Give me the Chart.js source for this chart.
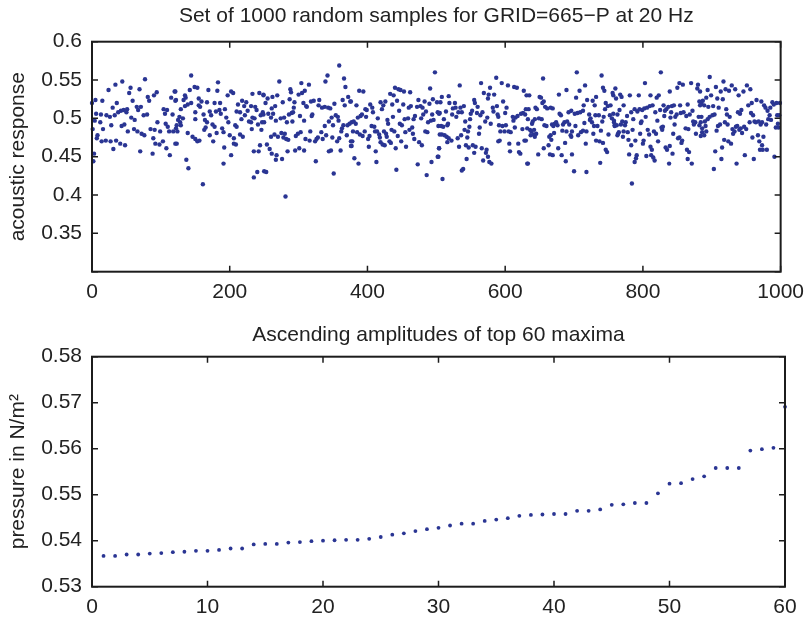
<!DOCTYPE html>
<html>
<head>
<meta charset="utf-8">
<script src="https://cdn.jsdelivr.net/npm/chart.js@4.4.1/dist/chart.umd.min.js"></script>
<style>
  body { margin: 0; background: #fff; }
  #wrap { position: relative; width: 812px; height: 619px; }
  canvas { position: absolute; left: 0; }
  #top { top: 0; }
  #bottom { top: 310px; }
</style>
</head>
<body>
<div id="wrap">
  <canvas id="top" width="812" height="310"></canvas>
  <canvas id="bottom" width="812" height="309"></canvas>
</div>
<script>
// top plot: samples (sample number, acoustic response)
const sampleIndex = [
  0,5,15,24,34,44,77,56,69,54,81,94,90,83,115,120,121,30,36,42,46,51,50,59,65,67,71,57,62,75,80,104,109,106,117,6,13,21,26,33,38,
  4,12,16,28,43,47,1,52,61,66,72,76,85,91,95,99,110,112,118,122,107,8,7,14,20,27,35,41,48,89,92,98,103,123,31,70,88,108,113,3,2,
  144,149,153,142,135,136,133,121,122,169,183,182,197,202,205,233,243,249,218,224,
  155,159,157,155,144,139,135,129,167,178,186,193,180,185,187,171,173,162,150,212,221,231,237,239,210,215,222,226,233,249,245,
  125,128,123,129,132,127,150,164,167,175,178,195,198,208,210,217,228,231,241,247,236,
  124,165,163,189,191,181,171,232,246,139,200,206,215,219,
  146,150,153,156,176,206,209,121,192,244,
  235,242,202,137,191,140,240,235,250,161,
  272,288,289,304,315,300,305,309,342,339,359,366,368,372,375,249,255,262,269,
  252,261,266,277,287,294,293,307,311,312,318,322,330,329,334,338,343,346,352,364,367,
  248,256,260,263,267,274,279,283,286,290,291,292,302,308,320,319,338,344,348,350,354,357,358,362,363,365,371,374,250,
  260,265,270,275,280,278,282,285,296,299,303,310,316,317,324,326,328,333,335,340,349,356,359,370,376,377,
  254,258,261,268,267,276,284,295,301,308,325,344,347,361,351,253,281,
  388,394,440,445,448,453,462,433,438,498,491,495,501,474,483,443,376,384,397,399,
  404,407,408,419,423,426,421,436,452,446,460,463,472,477,480,485,490,494,502,504,
  377,380,383,386,390,392,398,415,429,430,437,447,450,454,459,467,469,478,481,488,492,496,503,
  379,385,389,393,396,401,403,406,410,411,414,417,418,424,427,428,435,439,444,455,461,465,466,468,484,487,505,
  378,376,419,422,425,434,432,449,456,441,475,479,412,402,381,387,413,442,473,493,486,502,504,
  534,565,578,587,595,604,613,617,627,508,518,569,576,584,575,555,519,527,597,631,506,
  524,528,535,540,514,505,523,532,537,529,552,550,556,560,559,564,567,571,574,582,583,588,590,589,600,602,611,612,615,618,623,626,629,630,511,542,549,
  507,510,516,517,541,546,548,562,563,579,591,593,596,601,599,605,608,614,625,632,508,512,515,518,522,531,536,545,
  516,533,543,547,553,557,555,566,573,572,590,592,606,619,607,620,622,628,504,503,575,568,577,580,544,539,537,509,633,
  655,704,740,716,689,708,742,744,635,650,652,678,703,719,727,732,757,656,654,658,661,666,669,644,646,634,730,746,749,753,745,714,
  692,696,701,705,709,713,681,679,722,724,731,736,743,752,755,758,759,
  633,640,643,649,653,639,657,660,668,670,672,674,676,684,686,690,693,702,715,723,726,729,734,741,
  636,638,642,637,641,643,645,630,683,689,695,697,696,706,710,713,718,728,739,750,
  666,664,667,671,663,656,648,665,669,677,682,697,687,717,732,737,742,746,748,688,632,700,718,738,
  826,803,760,756,767,769,761,781,794,811,820,823,839,850,853,858,870,880,879,883,882,885,
  772,766,763,757,783,788,792,795,799,802,806,810,814,804,798,797,818,821,825,830,832,834,837,842,845,841,831,840,847,849,854,855,859,865,863,868,872,873,876,881,884,
  758,762,768,770,775,774,777,786,759,764,765,763,772,778,785,771,779,796,807,809,816,819,827,829,828,846,844,851,853,857,856,862,866,874,877,886,
  789,783,800,801,811,813,822,833,835,839,843,864,867,780,791,790,788,805,812,815,817,865,838,871,784,
  897,906,917,920,929,934,951,956,946,939,894,892,887,899,908,913,916,925,
  883,889,895,902,910,921,922,926,938,941,943,953,958,957,960,965,972,976,978,981,985,988,990,994,999,995,998,984,
  885,890,891,894,897,901,904,882,886,892,884,889,907,909,912,919,923,930,933,935,937,940,944,942,947,950,955,962,964,968,971,973,979,982,986,993,997,996,931,
  918,924,928,959,967,975,969,973,970,974,980,915,905,914,948,936,961,991,903
];
const sampleValue = [
  .520,.524,.523,.537,.544,.548,.551,.540,.538,.533,.528,.534,.530,.523,.527,.535,.523,.514,.520,.510,.511,.512,.508,.523,.515,.511,.515,.501,.498,.504,.505,.512,.511,.506,.505,.506,.505,.504,.502,.504,.508,
  .497,.495,.486,.491,.490,.492,.486,.483,.486,.483,.480,.478,.486,.485,.495,.483,.489,.483,.483,.487,.493,.478,.474,.470,.471,.470,.471,.467,.465,.474,.467,.466,.470,.467,.460,.457,.454,.461,.452,.454,.444,
  .556,.541,.540,.537,.530,.527,.524,.535,.524,.537,.547,.536,.530,.535,.533,.532,.533,.530,.523,.521,
  .526,.522,.515,.517,.520,.518,.516,.512,.521,.520,.520,.512,.509,.511,.506,.509,.504,.505,.508,.518,.516,.516,.515,.511,.509,.508,.504,.510,.501,.505,.504,
  .498,.495,.491,.491,.500,.502,.499,.498,.495,.492,.489,.501,.495,.491,.489,.499,.496,.495,.492,.495,.500,
  .483,.488,.485,.487,.482,.481,.478,.486,.485,.481,.478,.474,.479,.476,
  .476,.473,.470,.471,.470,.467,.466,.467,.462,.465,
  .457,.457,.452,.446,.441,.435,.430,.423,.431,.414,
  .548,.538,.534,.546,.544,.531,.533,.536,.556,.548,.569,.552,.541,.528,.522,.531,.526,.528,.530,
  .520,.513,.516,.521,.525,.521,.514,.520,.516,.515,.522,.523,.524,.517,.514,.515,.514,.513,.519,.524,.517,
  .508,.506,.501,.506,.497,.500,.501,.495,.505,.507,.496,.508,.503,.497,.505,.503,.490,.496,.501,.491,.504,.502,.497,.483,.487,.491,.491,.493,.495,
  .476,.479,.476,.481,.480,.475,.473,.472,.477,.480,.482,.473,.471,.483,.470,.473,.475,.482,.473,.478,.475,.470,.474,.478,.470,.464,
  .466,.460,.454,.452,.446,.447,.457,.458,.461,.458,.444,.457,.458,.458,.428,.430,.398,
  .536,.535,.540,.538,.537,.535,.534,.532,.530,.560,.539,.525,.521,.524,.522,.523,.522,.517,.512,.511,
  .518,.514,.508,.521,.517,.522,.512,.518,.518,.510,.514,.516,.515,.516,.514,.509,.519,.505,.508,.506,
  .495,.496,.493,.501,.503,.505,.502,.500,.498,.493,.502,.493,.491,.499,.500,.499,.503,.500,.505,.495,.497,.498,.490,
  .483,.482,.479,.477,.483,.473,.477,.490,.489,.483,.483,.479,.475,.483,.480,.476,.485,.483,.477,.482,.485,.488,.480,.473,.483,.482,.479,
  .470,.464,.469,.466,.465,.468,.470,.470,.463,.461,.469,.465,.457,.463,.448,.441,.443,.433,.440,.443,.426,.450,.461,
  .543,.546,.540,.553,.546,.543,.541,.540,.536,.528,.529,.533,.531,.531,.526,.524,.520,.520,.522,.530,.521,
  .513,.514,.514,.516,.509,.507,.505,.508,.508,.502,.510,.506,.520,.515,.507,.504,.508,.496,.501,.514,.509,.516,.502,.505,.507,.514,.502,.497,.501,.503,.506,.507,.505,.512,.499,.496,.499,
  .490,.489,.491,.493,.485,.483,.489,.480,.488,.493,.491,.483,.490,.491,.483,.483,.482,.488,.486,.487,.479,.478,.476,.474,.471,.474,.478,.475,
  .469,.463,.465,.462,.465,.463,.455,.461,.459,.455,.470,.471,.467,.467,.457,.456,.454,.471,.461,.450,.450,.445,.443,.441,.447,.434,.432,.421,.441,
  .552,.560,.556,.543,.537,.536,.540,.536,.530,.528,.527,.531,.527,.524,.523,.528,.530,.522,.520,.515,.513,.514,.513,.514,.512,.512,.517,.520,.516,.517,.512,.517,
  .508,.510,.506,.507,.508,.510,.504,.506,.505,.500,.504,.504,.502,.504,.500,.497,.491,
  .499,.496,.499,.500,.499,.493,.491,.490,.492,.490,.493,.495,.491,.492,.495,.496,.492,.490,.494,.498,.495,.490,.490,.496,
  .485,.483,.485,.478,.479,.476,.480,.471,.484,.483,.478,.483,.476,.478,.482,.484,.483,.480,.484,.479,
  .478,.476,.472,.481,.465,.461,.453,.453,.452,.461,.452,.453,.468,.467,.471,.470,.468,.459,.456,.444,.441,.431,.430,.442,
  .560,.546,.539,.533,.531,.528,.526,.530,.530,.530,.527,.530,.535,.540,.546,.544,.546,.544,.539,.535,.522,.519,
  .517,.511,.505,.506,.508,.512,.509,.512,.511,.513,.514,.516,.517,.502,.496,.494,.508,.497,.511,.517,.510,.512,.515,.516,.517,.508,.503,.501,.502,.505,.517,.507,.508,.518,.503,.505,.510,.496,.495,.502,.495,
  .495,.491,.492,.496,.495,.491,.503,.499,.490,.480,.482,.478,.483,.482,.485,.476,.472,.480,.485,.479,.483,.480,.488,.489,.485,.492,.480,.474,.475,.471,.468,.487,.486,.492,.480,.482,
  .471,.465,.467,.471,.463,.459,.470,.462,.459,.464,.454,.459,.456,.453,.452,.448,.443,.451,.452,.449,.445,.447,.441,.441,.415,
  .554,.541,.548,.538,.543,.538,.543,.538,.535,.530,.537,.527,.523,.530,.526,.535,.525,.536,
  .517,.517,.515,.516,.514,.512,.505,.502,.508,.506,.511,.517,.520,.507,.504,.524,.522,.517,.514,.510,.514,.521,.518,.520,.520,.504,.504,.504,
  .502,.496,.490,.499,.502,.504,.505,.491,.487,.483,.477,.478,.484,.490,.492,.495,.492,.486,.483,.489,.490,.485,.481,.487,.489,.486,.495,.496,.495,.496,.492,.495,.492,.499,.498,.488,.488,.493,.480,
  .472,.470,.467,.475,.478,.476,.470,.465,.459,.459,.459,.462,.457,.447,.452,.441,.447,.450,.434
];

// bottom plot: 60 largest maxima in ascending order
const maxRank = [];
for (let i = 1; i <= 60; i++) maxRank.push(i);
const maxValue = [
  .5367,.5367,.5370,.5370,.5372,.5373,.5375,.5376,.5378,.5378,
  .5380,.5383,.5383,.5392,.5393,.5393,.5396,.5397,.5399,.5400,
  .5401,.5402,.5402,.5404,.5408,.5413,.5416,.5421,.5425,.5428,
  .5433,.5437,.5437,.5443,.5446,.5449,.5454,.5456,.5457,.5458,
  .5458,.5465,.5465,.5468,.5478,.5479,.5482,.5482,.5503,.5524,
  .5525,.5534,.5540,.5558,.5558,.5558,.5596,.5599,.5602,.5691
];

const topTitle = 'Set of 1000 random samples for GRID=665\u2212P at 20 Hz';
const bottomTitle = 'Ascending amplitudes of top 60 maxima';

Chart.defaults.font.family = "'Liberation Sans', Arial, Helvetica, sans-serif";
Chart.defaults.color = '#222';

const dotColor = '#2a3593';
const ink = '#1c1c1c';

// matlab style box with ticks pointing inward on all four sides
const boxTicks = {
  id: 'boxTicks',
  afterDatasetsDraw(chart) {
    const ctx = chart.ctx;
    const a = chart.chartArea;
    const x = chart.scales.x, y = chart.scales.y;
    ctx.save();
    ctx.strokeStyle = ink;
    ctx.lineWidth = 1.5;
    ctx.beginPath();
    x.ticks.forEach(t => {
      const px = x.getPixelForValue(t.value);
      ctx.moveTo(px, a.bottom); ctx.lineTo(px, a.bottom - 6);
      ctx.moveTo(px, a.top); ctx.lineTo(px, a.top + 6);
    });
    y.ticks.forEach(t => {
      const py = y.getPixelForValue(t.value);
      ctx.moveTo(a.left, py); ctx.lineTo(a.left + 6, py);
      ctx.moveTo(a.right, py); ctx.lineTo(a.right - 6, py);
    });
    ctx.stroke();
    ctx.lineWidth = 2;
    ctx.strokeRect(a.left, a.top, a.right - a.left, a.bottom - a.top);
    ctx.restore();
  }
};

function makeChart(id, pts, o) {
  return new Chart(document.getElementById(id), {
    type: 'scatter',
    data: {
      datasets: [{
        data: pts,
        backgroundColor: dotColor,
        borderWidth: 0,
        pointRadius: o.radius,
        clip: false
      }]
    },
    options: {
      responsive: false,
      animation: false,
      devicePixelRatio: 1,
      layout: { padding: { left: 0, right: 27, top: 0, bottom: 0 } },
      plugins: {
        legend: { display: false },
        tooltip: { enabled: false },
        title: {
          display: true,
          text: o.title,
          fullSize: false,
          font: { size: 21, weight: 'normal' },
          color: '#222',
          padding: o.titlePad
        }
      },
      scales: {
        x: {
          type: 'linear',
          min: o.xMin, max: o.xMax,
          grid: { display: false, drawTicks: false },
          border: { display: false },
          ticks: { stepSize: o.xStep, font: { size: 21 }, padding: 8, maxRotation: 0, callback: v => String(v) },
          afterFit: s => { s.height = o.xHeight; }
        },
        y: {
          min: o.yMin, max: o.yMax,
          grid: { display: false, drawTicks: false },
          border: { display: false },
          ticks: { stepSize: o.yStep, font: { size: 21 }, padding: 10, callback: o.yLabel },
          title: { display: true, text: o.yTitle, font: { size: 21 }, padding: { top: 6, bottom: 0 } },
          afterFit: s => { s.width = 92; }
        }
      }
    },
    plugins: [boxTicks]
  });
}

makeChart('top', sampleIndex.map((v, i) => ({ x: v, y: sampleValue[i] })), {
  title: topTitle,
  titlePad: { top: 4, bottom: 12.5 },
  radius: 2.2,
  xMin: 0, xMax: 1000, xStep: 200, xHeight: 38.3,
  yMin: 0.3, yMax: 0.6, yStep: 0.05,
  yLabel: v => v < 0.32 ? '' : String(+v.toFixed(2)),
  yTitle: 'acoustic response'
});

makeChart('bottom', maxRank.map((v, i) => ({ x: v, y: maxValue[i] })), {
  title: bottomTitle,
  titlePad: { top: 12.4, bottom: 9.1 },
  radius: 1.9,
  xMin: 0, xMax: 60, xStep: 10, xHeight: 32.3,
  yMin: 0.53, yMax: 0.58, yStep: 0.01,
  yLabel: v => String(+v.toFixed(2)),
  yTitle: 'pressure in N/m\u00b2'
});
</script>
</body>
</html>
